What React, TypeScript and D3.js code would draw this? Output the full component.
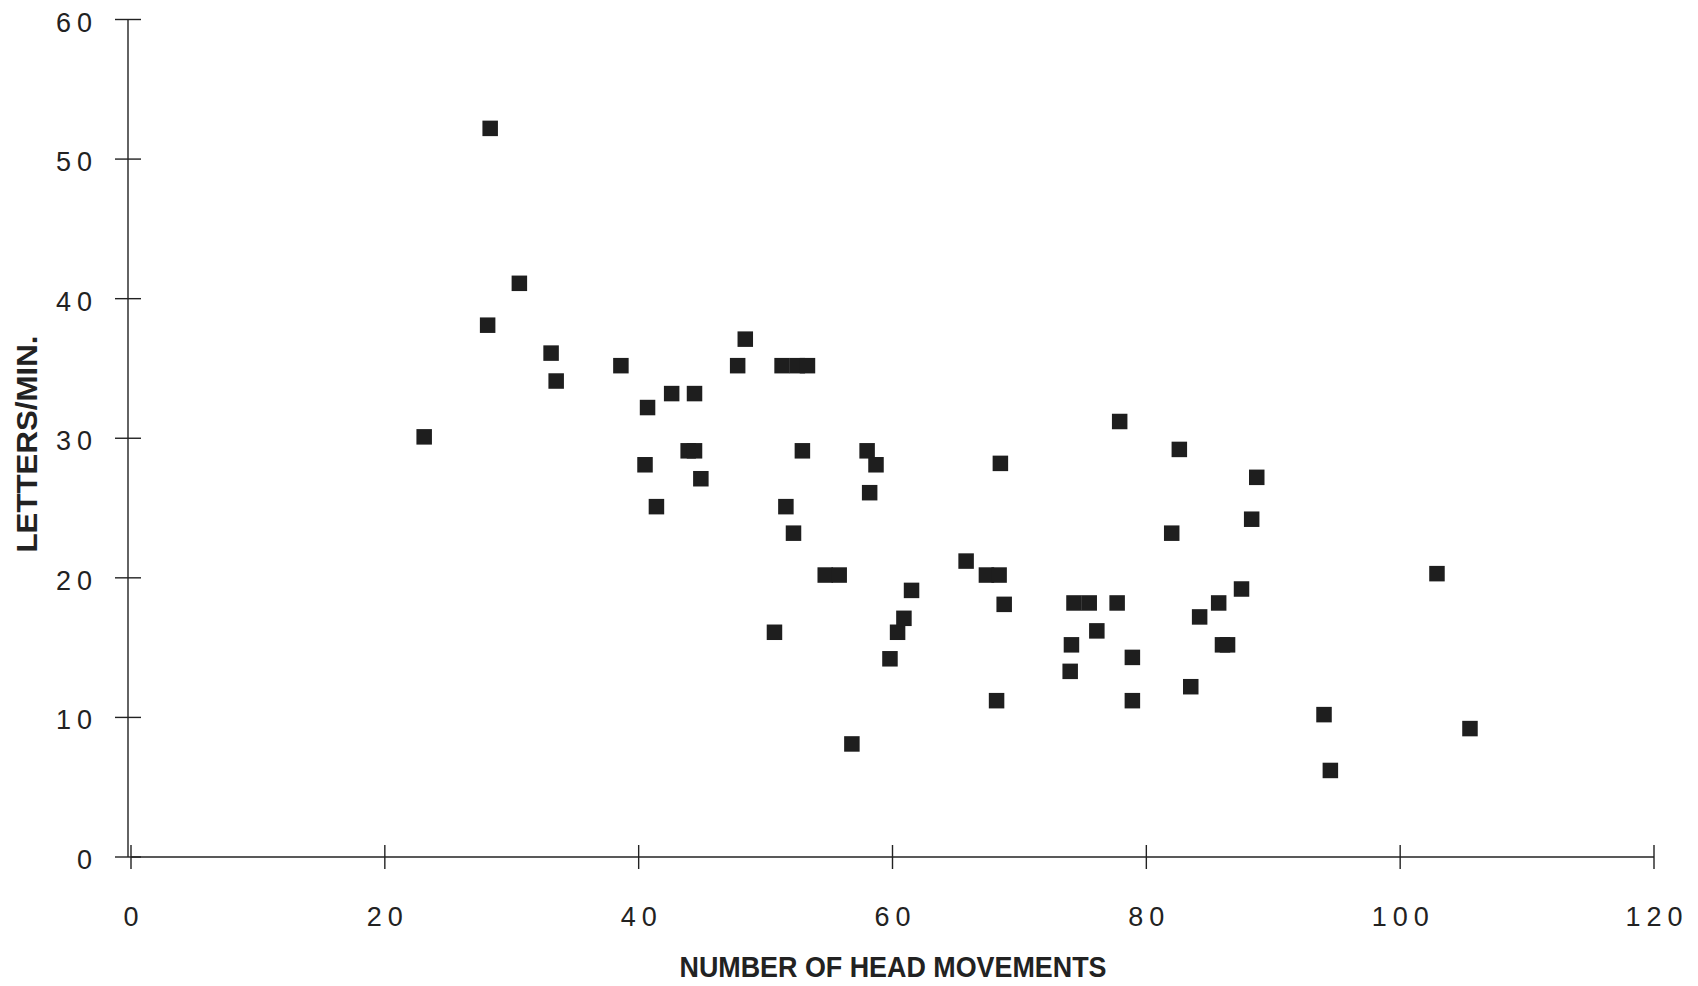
import { useEffect, useRef } from 'react';
import { select, scaleLinear } from 'd3';

// head movements (x) vs letters per minute (y)
const headMovements = [
  23.1, 28.3, 28.1, 30.6, 33.1, 33.5, 38.6, 40.7, 40.5, 41.4,
  42.6, 43.9, 44.4, 44.4, 44.9, 47.8, 48.4, 50.7, 51.3, 51.6,
  52.2, 52.5, 53.3, 52.9, 54.7, 55.8, 56.8, 58.0, 58.2, 58.7,
  59.8, 60.4, 60.9, 61.5, 65.8, 67.4, 68.4, 68.8, 68.2, 68.5,
  74.0, 74.1, 74.3, 75.5, 76.1, 77.7, 77.9, 78.9, 78.9, 82.0,
  82.6, 83.5, 84.2, 85.7, 86.0, 86.4, 87.5, 88.3, 88.7, 94.0,
  94.5, 102.9, 105.5,
];
const lettersPerMin = [
  30.1, 52.2, 38.1, 41.1, 36.1, 34.1, 35.2, 32.2, 28.1, 25.1,
  33.2, 29.1, 29.1, 33.2, 27.1, 35.2, 37.1, 16.1, 35.2, 25.1,
  23.2, 35.2, 35.2, 29.1, 20.2, 20.2, 8.1, 29.1, 26.1, 28.1,
  14.2, 16.1, 17.1, 19.1, 21.2, 20.2, 20.2, 18.1, 11.2, 28.2,
  13.3, 15.2, 18.2, 18.2, 16.2, 18.2, 31.2, 14.3, 11.2, 23.2,
  29.2, 12.2, 17.2, 18.2, 15.2, 15.2, 19.2, 24.2, 27.2, 10.2,
  6.2, 20.3, 9.2,
];
const xTicks = [0, 20, 40, 60, 80, 100, 120];
const yTicks = [0, 10, 20, 30, 40, 50, 60];
const xTitle = 'NUMBER OF HEAD MOVEMENTS';
const yTitle = 'LETTERS/MIN.';

export default function App() {
  const svgRef = useRef<SVGSVGElement>(null);

  useEffect(() => {
    if (!svgRef.current) return;
    const svg = select(svgRef.current);
    svg.selectAll('*').remove();

    const ink = '#222';
    const tickFont = '"Liberation Sans", Arial, Helvetica, sans-serif';

    const x = scaleLinear().domain([0, 120]).range([131, 1654]);
    const y = scaleLinear().domain([0, 60]).range([857, 19.5]);

    const g = svg.append('g');

    // axes lines
    g.append('line')
      .attr('x1', x(0)).attr('x2', x(120))
      .attr('y1', y(0)).attr('y2', y(0))
      .attr('stroke', ink).attr('stroke-width', 1.6);
    g.append('line')
      .attr('x1', x(0) - 3).attr('x2', x(0) - 3)
      .attr('y1', y(60)).attr('y2', y(0))
      .attr('stroke', ink).attr('stroke-width', 1.4);

    // y ticks cross the axis
    g.selectAll('.ytick')
      .data(yTicks)
      .enter()
      .append('line')
      .attr('x1', x(0) - 16).attr('x2', x(0) + 10)
      .attr('y1', (d) => y(d)).attr('y2', (d) => y(d))
      .attr('stroke', ink).attr('stroke-width', 1.4);

    g.selectAll('.ylab')
      .data(yTicks)
      .enter()
      .append('text')
      .attr('x', 98)
      .attr('y', (d) => y(d) + 12)
      .attr('text-anchor', 'end')
      .attr('font-family', tickFont)
      .attr('font-size', 27)
      .attr('letter-spacing', 6)
      .attr('fill', ink)
      .text((d) => d);

    g.selectAll('.xtick')
      .data(xTicks)
      .enter()
      .append('line')
      .attr('x1', (d) => x(d)).attr('x2', (d) => x(d))
      .attr('y1', y(0) - 12).attr('y2', y(0) + 12)
      .attr('stroke', ink).attr('stroke-width', 1.4);

    g.selectAll('.xlab')
      .data(xTicks)
      .enter()
      .append('text')
      .attr('x', (d) => x(d) + 3)
      .attr('y', 926)
      .attr('text-anchor', 'middle')
      .attr('font-family', tickFont)
      .attr('font-size', 27)
      .attr('letter-spacing', 6)
      .attr('fill', ink)
      .text((d) => d);

    // titles
    g.append('text')
      .attr('x', 893)
      .attr('y', 977)
      .attr('text-anchor', 'middle')
      .attr('font-family', tickFont)
      .attr('font-weight', 'bold')
      .attr('font-size', 29)
      .attr('textLength', 427)
      .attr('lengthAdjust', 'spacingAndGlyphs')
      .attr('fill', ink)
      .text(xTitle);

    g.append('text')
      .attr('transform', 'translate(37,444) rotate(-90)')
      .attr('text-anchor', 'middle')
      .attr('font-family', tickFont)
      .attr('font-weight', 'bold')
      .attr('font-size', 29)
      .attr('textLength', 217)
      .attr('lengthAdjust', 'spacingAndGlyphs')
      .attr('fill', ink)
      .text(yTitle);

    // square markers
    const size = 15.5;
    g.selectAll('.pt')
      .data(headMovements.map((hm, i) => ({ hm, lpm: lettersPerMin[i] })))
      .enter()
      .append('rect')
      .attr('x', (d) => x(d.hm) - size / 2)
      .attr('y', (d) => y(d.lpm) - size / 2)
      .attr('width', size)
      .attr('height', size)
      .attr('fill', '#1e1e1e');
  }, []);

  return (
    <div style={{ position: 'absolute', left: 0, top: 0, background: '#fff' }}>
      <svg ref={svgRef} width={1698} height={986} style={{ display: 'block' }} />
    </div>
  );
}
